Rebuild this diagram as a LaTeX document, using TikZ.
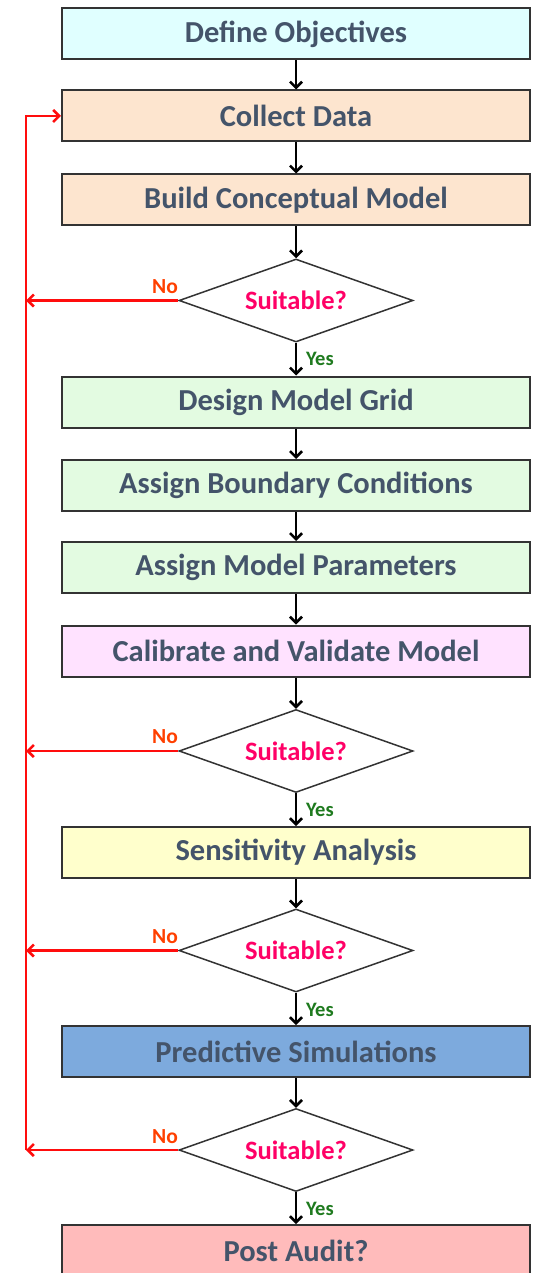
\documentclass[tikz,border=0pt]{standalone}
\usepackage{fontspec}
\setmainfont{Carlito}
\usetikzlibrary{shapes.geometric,arrows.meta}

\definecolor{txt}{HTML}{44546A}
\definecolor{boxline}{HTML}{333333}
\definecolor{cyanfill}{HTML}{E0FFFF}
\definecolor{peachfill}{HTML}{FDE5CF}
\definecolor{greenfill}{HTML}{E3FBE1}
\definecolor{pinkfill}{HTML}{FFE2FF}
\definecolor{yellowfill}{HTML}{FFFFCC}
\definecolor{bluefill}{HTML}{7DAADD}
\definecolor{rosefill}{HTML}{FFBBBB}
\definecolor{asktxt}{HTML}{FF0066}
\definecolor{notxt}{HTML}{FF4000}
\definecolor{yestxt}{HTML}{1E7A1E}
\definecolor{loopred}{HTML}{FF0D0D}

\begin{document}
\begin{tikzpicture}[x=1pt,y=-1pt,
  stepbox/.style={draw=boxline, line width=2pt, minimum width=468pt,
    minimum height=51pt, inner sep=0pt, text=txt,
    font=\fontsize{30.5}{35}\selectfont\bfseries},
  decision/.style={diamond, draw=boxline, line width=1.5pt, fill=white,
    minimum width=234pt, minimum height=83pt, inner sep=0pt},
  asktext/.style={text=asktxt, font=\fontsize{26.5}{30}\selectfont\bfseries},
  notext/.style={text=notxt, font=\fontsize{21.5}{25}\selectfont\bfseries, inner sep=0pt},
  yestext/.style={text=yestxt, font=\fontsize{20.5}{24}\selectfont\bfseries, inner sep=0pt, anchor=west},
  flow/.style={line width=2.6pt, black, -{Straight Barb[length=6pt,width=12pt]}},
  noflow/.style={line width=2.6pt, loopred, -{Straight Barb[length=6pt,width=12pt]}}
]
\useasboundingbox (0,0) rectangle (541,1273);
\fill[white] (0,0) rectangle (541,1273);

% process steps
\node[stepbox, fill=cyanfill]   (def)  at (296,34)   {Define Objectives};
\node[stepbox, fill=peachfill]  (col)  at (296,116)  {Collect Data};
\node[stepbox, fill=peachfill]  (con)  at (296,200)  {Build Conceptual Model};
\node[decision]                 (d1)   at (296,300.5) {};
\node[asktext]                  (d1t)  at (d1) {Suitable?};
\node[stepbox, fill=greenfill]  (grid) at (296,402)  {Design Model Grid};
\node[stepbox, fill=greenfill]  (bc)   at (296,485.5) {Assign Boundary Conditions};
\node[stepbox, fill=greenfill]  (par)  at (296,567.5) {Assign Model Parameters};
\node[stepbox, fill=pinkfill]   (cal)  at (296,651)  {Calibrate and Validate Model};
\node[decision]                 (d2)   at (296,751)  {};
\node[asktext]                  (d2t)  at (d2) {Suitable?};
\node[stepbox, fill=yellowfill] (sen)  at (296,852.5) {Sensitivity Analysis};
\node[decision]                 (d3)   at (296,950.5) {};
\node[asktext]                  (d3t)  at (d3) {Suitable?};
\node[stepbox, fill=bluefill]   (pred) at (296,1051.5) {Predictive Simulations};
\node[decision]                 (d4)   at (296,1150) {};
\node[asktext]                  (d4t)  at (d4) {Suitable?};
\node[stepbox, fill=rosefill, minimum height=52pt] (post) at (296,1251) {Post Audit?};

% main flow
\draw[flow] (def) -- (col);
\draw[flow] (col) -- (con);
\draw[flow] (con) -- (d1);
\draw[flow] (d1) -- (grid);
\draw[flow] (grid) -- (bc);
\draw[flow] (bc) -- (par);
\draw[flow] (par) -- (cal);
\draw[flow] (cal) -- (d2);
\draw[flow] (d2) -- (sen);
\draw[flow] (sen) -- (d3);
\draw[flow] (d3) -- (pred);
\draw[flow] (pred) -- (d4);
\draw[flow] (d4) -- (post);

% yes labels
\node[yestext] (y1) at (306,359) {Yes};
\node[yestext] (y2) at (306,810) {Yes};
\node[yestext] (y3) at (306,1010) {Yes};
\node[yestext] (y4) at (306,1209) {Yes};

% feedback loop back to data collection
\coordinate (rb) at (26,1150);
\draw[noflow] (rb) |- (col.west);
\draw[noflow] (d1.west) -- (d1.west -| rb);
\draw[noflow] (d2.west) -- (d2.west -| rb);
\draw[noflow] (d3.west) -- (d3.west -| rb);
\draw[noflow] (d4.west) -- (d4.west -| rb);

% no labels
\node[notext] (n1) at (165,287) {No};
\node[notext] (n2) at (165,737) {No};
\node[notext] (n3) at (165,937) {No};
\node[notext] (n4) at (165,1137) {No};
\end{tikzpicture}
\end{document}
